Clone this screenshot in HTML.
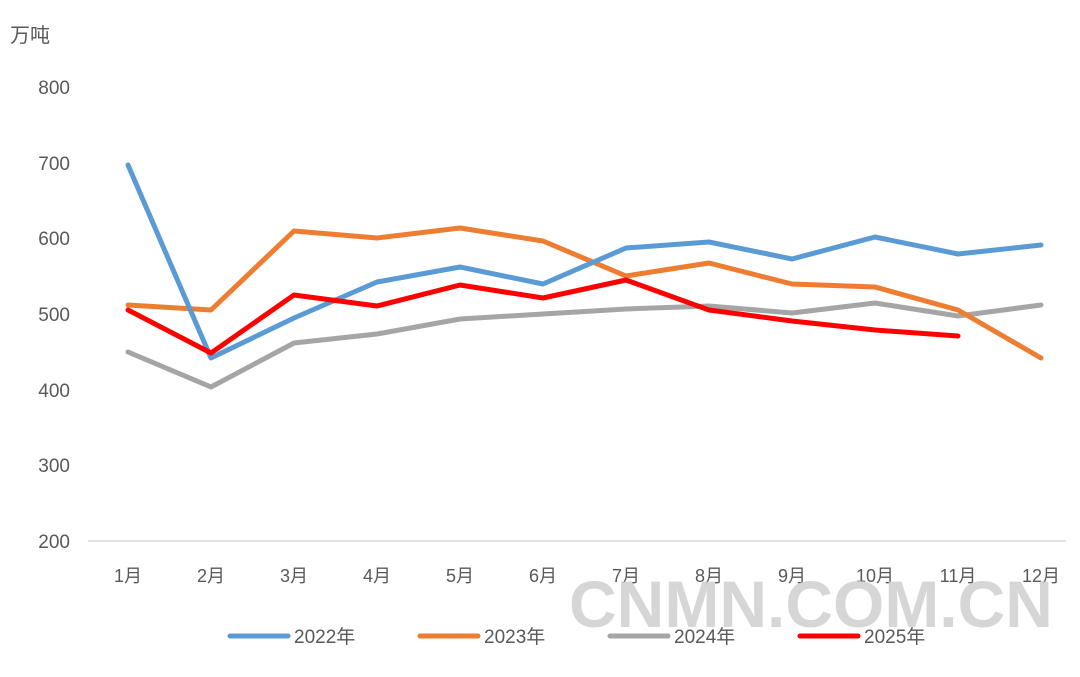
<!DOCTYPE html>
<html><head><meta charset="utf-8"><style>
body{margin:0;background:#fff;}
svg text{font-family:"Liberation Sans","Noto Sans CJK SC",sans-serif;fill:#595959;}
</style></head><body>
<svg width="1080" height="672" viewBox="0 0 1080 672" xmlns="http://www.w3.org/2000/svg">
<rect width="1080" height="672" fill="#fff"/>
<text x="10" y="42" font-size="20">万吨</text>
<g font-size="19" text-anchor="end">
<text x="70" y="94">800</text><text x="70" y="170">700</text><text x="70" y="245">600</text>
<text x="70" y="321">500</text><text x="70" y="397">400</text><text x="70" y="472">300</text>
<text x="70" y="548">200</text>
</g>
<line x1="88" y1="541" x2="1066" y2="541" stroke="#d9d9d9" stroke-width="1.5"/>
<g font-size="18" text-anchor="middle">
<text x="128" y="582">1月</text><text x="211" y="582">2月</text><text x="294" y="582">3月</text>
<text x="377" y="582">4月</text><text x="460" y="582">5月</text><text x="543" y="582">6月</text>
<text x="626" y="582">7月</text><text x="709" y="582">8月</text><text x="792" y="582">9月</text>
<text x="875" y="582">10月</text><text x="958" y="582">11月</text><text x="1041" y="582">12月</text>
</g>
<g fill="none" stroke-width="5" stroke-linejoin="round" stroke-linecap="round">
<polyline stroke="#a5a5a5" points="128,352 211,387 294,343 377,334 460,319 543,314 626,309 709,306 792,313 875,303 958,316 1041,305"/>
<polyline stroke="#ed7d31" points="128,305 211,310 294,231 377,238 460,228 543,241 626,276 709,263 792,284 875,287 958,310 1041,358"/>
<polyline stroke="#5b9bd5" points="128,165 211,358 294,318 377,282 460,267 543,284 626,248 709,242 792,259 875,237 958,254 1041,245"/>
<polyline stroke="#ff0000" points="128,310 211,353 294,295 377,306 460,285 543,298 626,280 709,310 792,321 875,330 958,336"/>
</g>
<text x="811" y="627" font-size="66" font-weight="bold" text-anchor="middle" style="fill:#d0d0d0" opacity="0.85">CNMN.COM.CN</text>
<g stroke-width="5" stroke-linecap="round">
<line x1="230" y1="636" x2="288" y2="636" stroke="#5b9bd5"/>
<line x1="420" y1="636" x2="478" y2="636" stroke="#ed7d31"/>
<line x1="610" y1="636" x2="668" y2="636" stroke="#a5a5a5"/>
<line x1="800" y1="636" x2="858" y2="636" stroke="#ff0000"/>
</g>
<g font-size="19">
<text x="294" y="643">2022年</text><text x="484" y="643">2023年</text>
<text x="674" y="643">2024年</text><text x="864" y="643">2025年</text>
</g>
</svg>
</body></html>
